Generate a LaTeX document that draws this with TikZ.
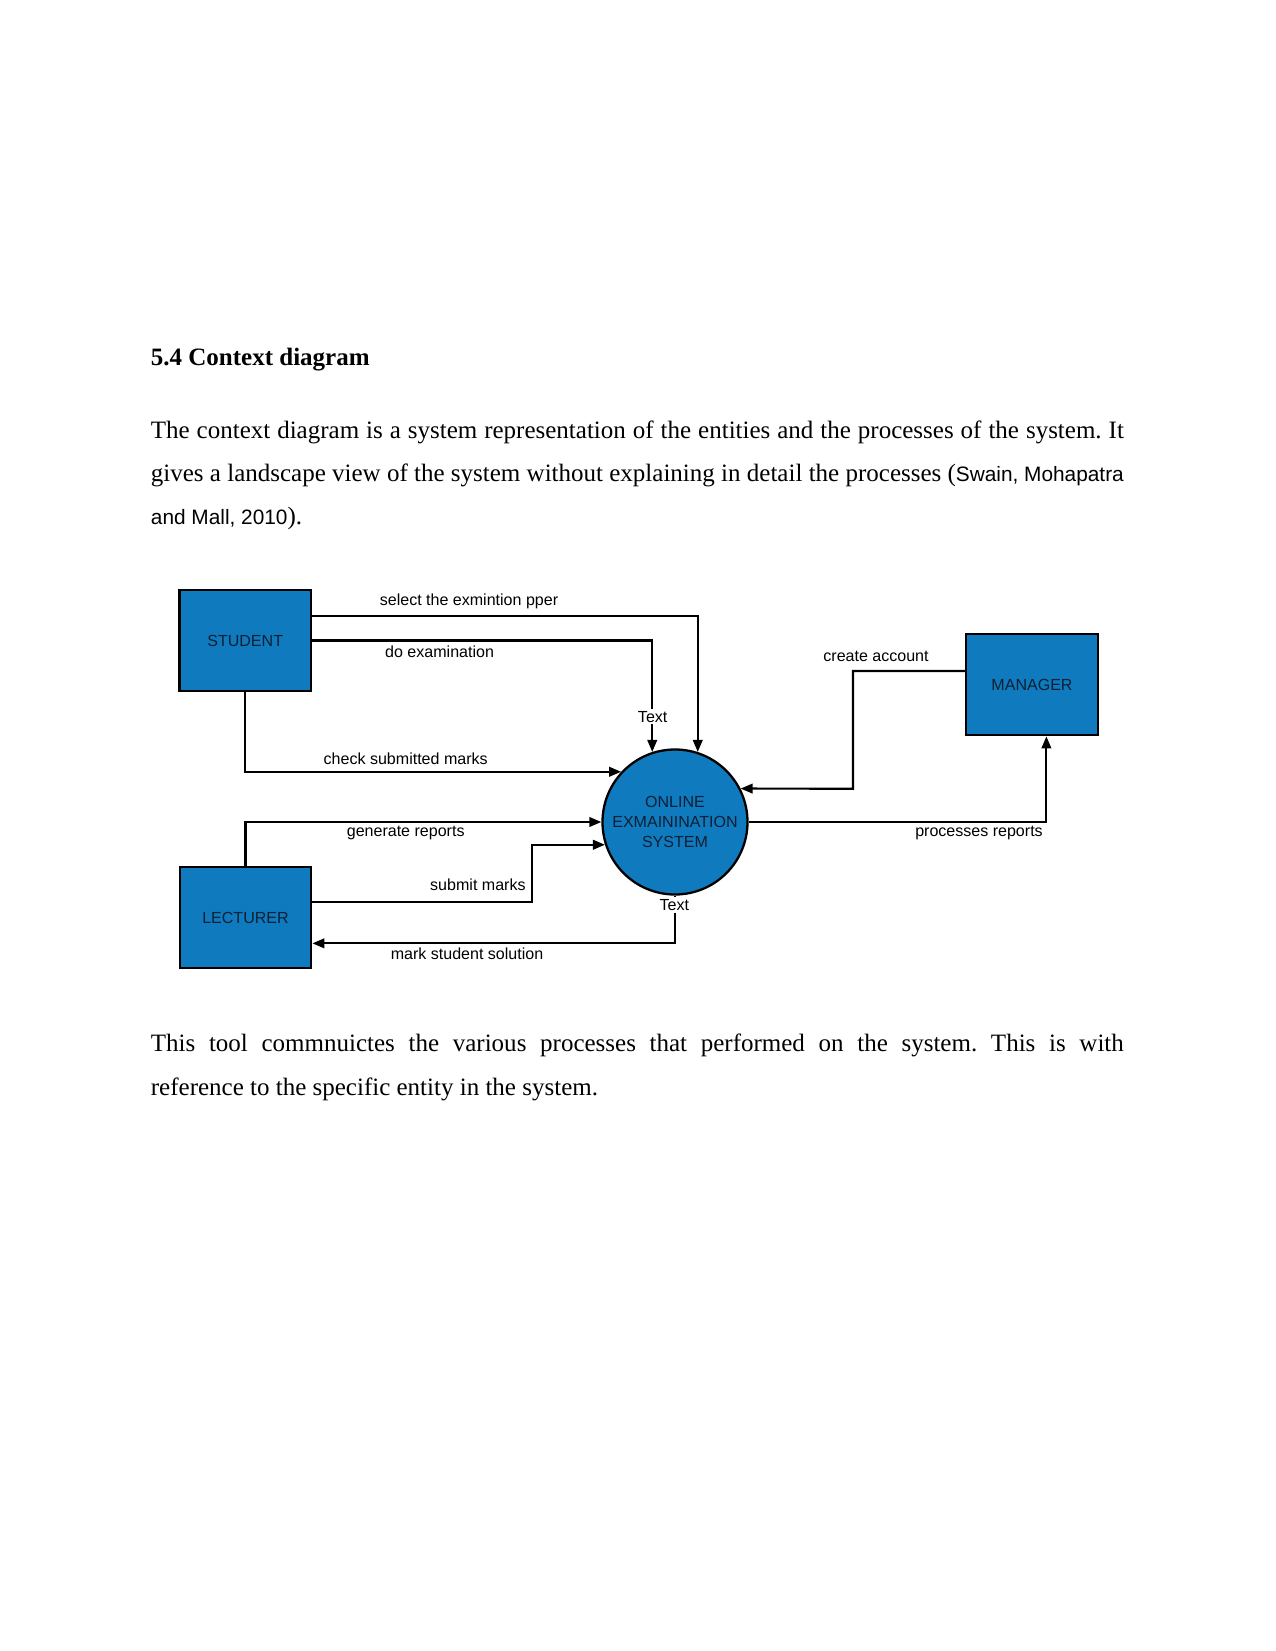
\documentclass[tikz,border=0pt]{standalone}
\usepackage{fontspec}
\setmainfont{Liberation Serif}
\newfontfamily\diagfont{Liberation Sans}
\usetikzlibrary{arrows.meta}
\frenchspacing
\definecolor{boxblue}{RGB}{16,122,190}
\definecolor{boxtext}{RGB}{12,32,52}
\tikzset{
  entity/.style={draw=black, line width=1.1pt, fill=boxblue, minimum width=63.1pt, minimum height=48.7pt, inner sep=0pt, font=\diagfont\fontsize{7.7}{9.4}\selectfont, text=boxtext},
  proc/.style={circle, draw=black, line width=1.1pt, fill=boxblue, minimum size=69.6pt, inner sep=0pt, align=center, font=\diagfont\fontsize{7.7}{9.4}\selectfont, text=boxtext},
  flow/.style={line width=1.05pt, -{Triangle[length=5.8pt,width=4.6pt]}},
  lbl/.style={inner sep=0pt, font=\diagfont\fontsize{7.7}{9.4}\selectfont},
  tlbl/.style={inner sep=1pt, fill=white, font=\diagfont\fontsize{7.7}{9.4}\selectfont},
  bodyline/.style={anchor=base west, inner sep=0pt, font=\fontsize{12}{14}\selectfont}
}
\begin{document}
\begin{tikzpicture}[x=0.48pt, y=-0.48pt]
\useasboundingbox (0,0) rectangle (1275,1651);
% text
\node[bodyline, font=\bfseries\fontsize{12}{14}\selectfont] (head) at (150.5,365.3) {5.4 Context diagram};
\node[bodyline] (p1) at (150.5,438) {\makebox[467pt][s]{The context diagram is a system representation of the entities and the processes of the system. It}};
\node[bodyline] (p2) at (150.5,481) {\makebox[467pt][s]{gives a landscape view of the system without explaining in detail the processes ({\diagfont\fontsize{10}{12}\selectfont Swain, Mohapatra}}};
\node[bodyline] (p3) at (150.5,524) {{\diagfont\fontsize{10}{12}\selectfont and Mall, 2010}).};
\node[bodyline] (q1) at (150.5,1051.7) {\makebox[467pt][s]{This tool commnuictes the various processes that performed on the system. This is with}};
\node[bodyline] (q2) at (150.5,1095) {reference to the specific entity in the system.};
% entities
\node[entity] (stud) at (245.2,640.5) {STUDENT};
\node[entity] (lect) at (245.5,917.5) {LECTURER};
\node[entity] (man) at (1032,684.5) {MANAGER};
\node[proc] (sys) at (675,822) {ONLINE\\EXMAININATION\\SYSTEM};
% coordinates
\coordinate (ca) at (852.9,788.7);
\coordinate (sm) at (531.7,845);
% connectors
\draw[flow] ([yshift=11.9pt]stud.east) -| (sys.72);
\draw[flow] (stud.east) -| (sys.108);
\draw[flow] (stud.south) |- (sys.137);
\draw[flow] ([yshift=6.48pt]man.west) -| (ca) -- (sys.27.3);
\draw[flow] (sys.east) -| ([xshift=6.9pt]man.south);
\draw[flow] (lect.north) |- (sys.west);
\draw[flow] ([yshift=7.58pt]lect.east) -| (sm) |- (sys.198.5);
\draw[flow] (sys.south) |- ([yshift=-12.4pt]lect.east);
% labels
\node[lbl] (l1) at (469,601.7) {select the exmintion pper};
\node[lbl] (l2) at (439.6,651.7) {do examination};
\node[lbl] (l3) at (405.7,758.7) {check submitted marks};
\node[lbl] (l4) at (876,656.7) {create account};
\node[lbl] (l5) at (979,833.3) {processes reports};
\node[lbl] (l6) at (405.7,833.3) {generate reports};
\node[lbl] (l7) at (477.9,884.3) {submit marks};
\node[lbl] (l8) at (467,954) {mark student solution};
\node[tlbl] (t1) at (652.7,716.7) {Text};
\node[tlbl] (t2) at (674.3,905) {Text};
\end{tikzpicture}
\end{document}
